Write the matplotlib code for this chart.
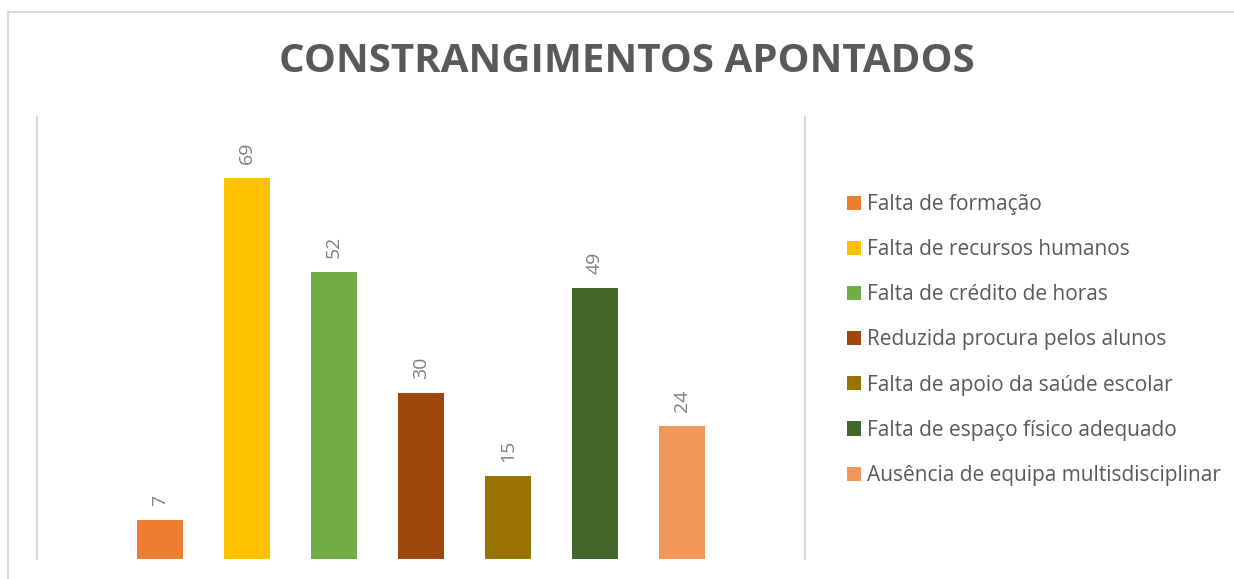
import numpy as np
import matplotlib
matplotlib.use("Agg")
import matplotlib.pyplot as plt
from matplotlib.patches import Patch
from matplotlib.lines import Line2D

plt.rcParams['font.family'] = ['Open Sans', 'DejaVu Sans']

categorias = ['Falta de formação', 'Falta de recursos humanos', 'Falta de crédito de horas',
              'Reduzida procura pelos alunos', 'Falta de apoio da saúde escolar',
              'Falta de espaço físico adequado', 'Ausência de equipa multisdisciplinar']
valores = [7, 69, 52, 30, 15, 49, 24]
cores = ['#ED7D31', '#FFC000', '#70AD47', '#9E480E', '#997300', '#43682B', '#F1975A']

fig = plt.figure(figsize=(12.34, 5.79), dpi=100, facecolor='white')
W, H = 1234, 579

# moldura do gráfico
fig.add_artist(Line2D([8 / W, 1], [1 - 11.5 / H, 1 - 11.5 / H], color='#D9D9D9', lw=1.5))
fig.add_artist(Line2D([8 / W, 8 / W], [0, 1 - 11.5 / H], color='#D9D9D9', lw=1.5))

ax = fig.add_axes([37 / W, 1 - 558.5 / H, (805 - 37) / W, (558.5 - 117) / H])
x = np.arange(len(valores))
meia = 768 / 87 / 2
ax.bar(x, valores, width=46 / 87, color=cores)
ax.set_xlim(3 - meia, 3 + meia)
ax.set_ylim(0, 80)
for xi, v in zip(x, valores):
    ax.annotate(str(v), (xi, v), xytext=(0, 10), textcoords='offset points',
                rotation=90, ha='center', va='bottom', fontsize=14, color='#7F7F7F')

for s in ['top', 'bottom']:
    ax.spines[s].set_visible(False)
for s in ['left', 'right']:
    ax.spines[s].set_color('#D9D9D9')
    ax.spines[s].set_linewidth(1.5)
ax.set_xticks([])
ax.set_yticks([])

fig.text(627 / W, 1 - 61 / H, 'CONSTRANGIMENTOS APONTADOS', ha='center', va='center',
         fontsize=29, fontweight='bold', color='#595959')

handles = [Patch(facecolor=c, edgecolor='none') for c in cores]
fig.legend(handles, categorias, loc='upper left', bbox_to_anchor=(847 / W, 1 - 194 / H),
           frameon=False, fontsize=15, labelcolor='#595959', handlelength=0.67,
           handleheight=0.67, handletextpad=0.3, labelspacing=1.16, borderpad=0,
           borderaxespad=0)

fig.savefig('out.png', dpi=100, facecolor='white')
